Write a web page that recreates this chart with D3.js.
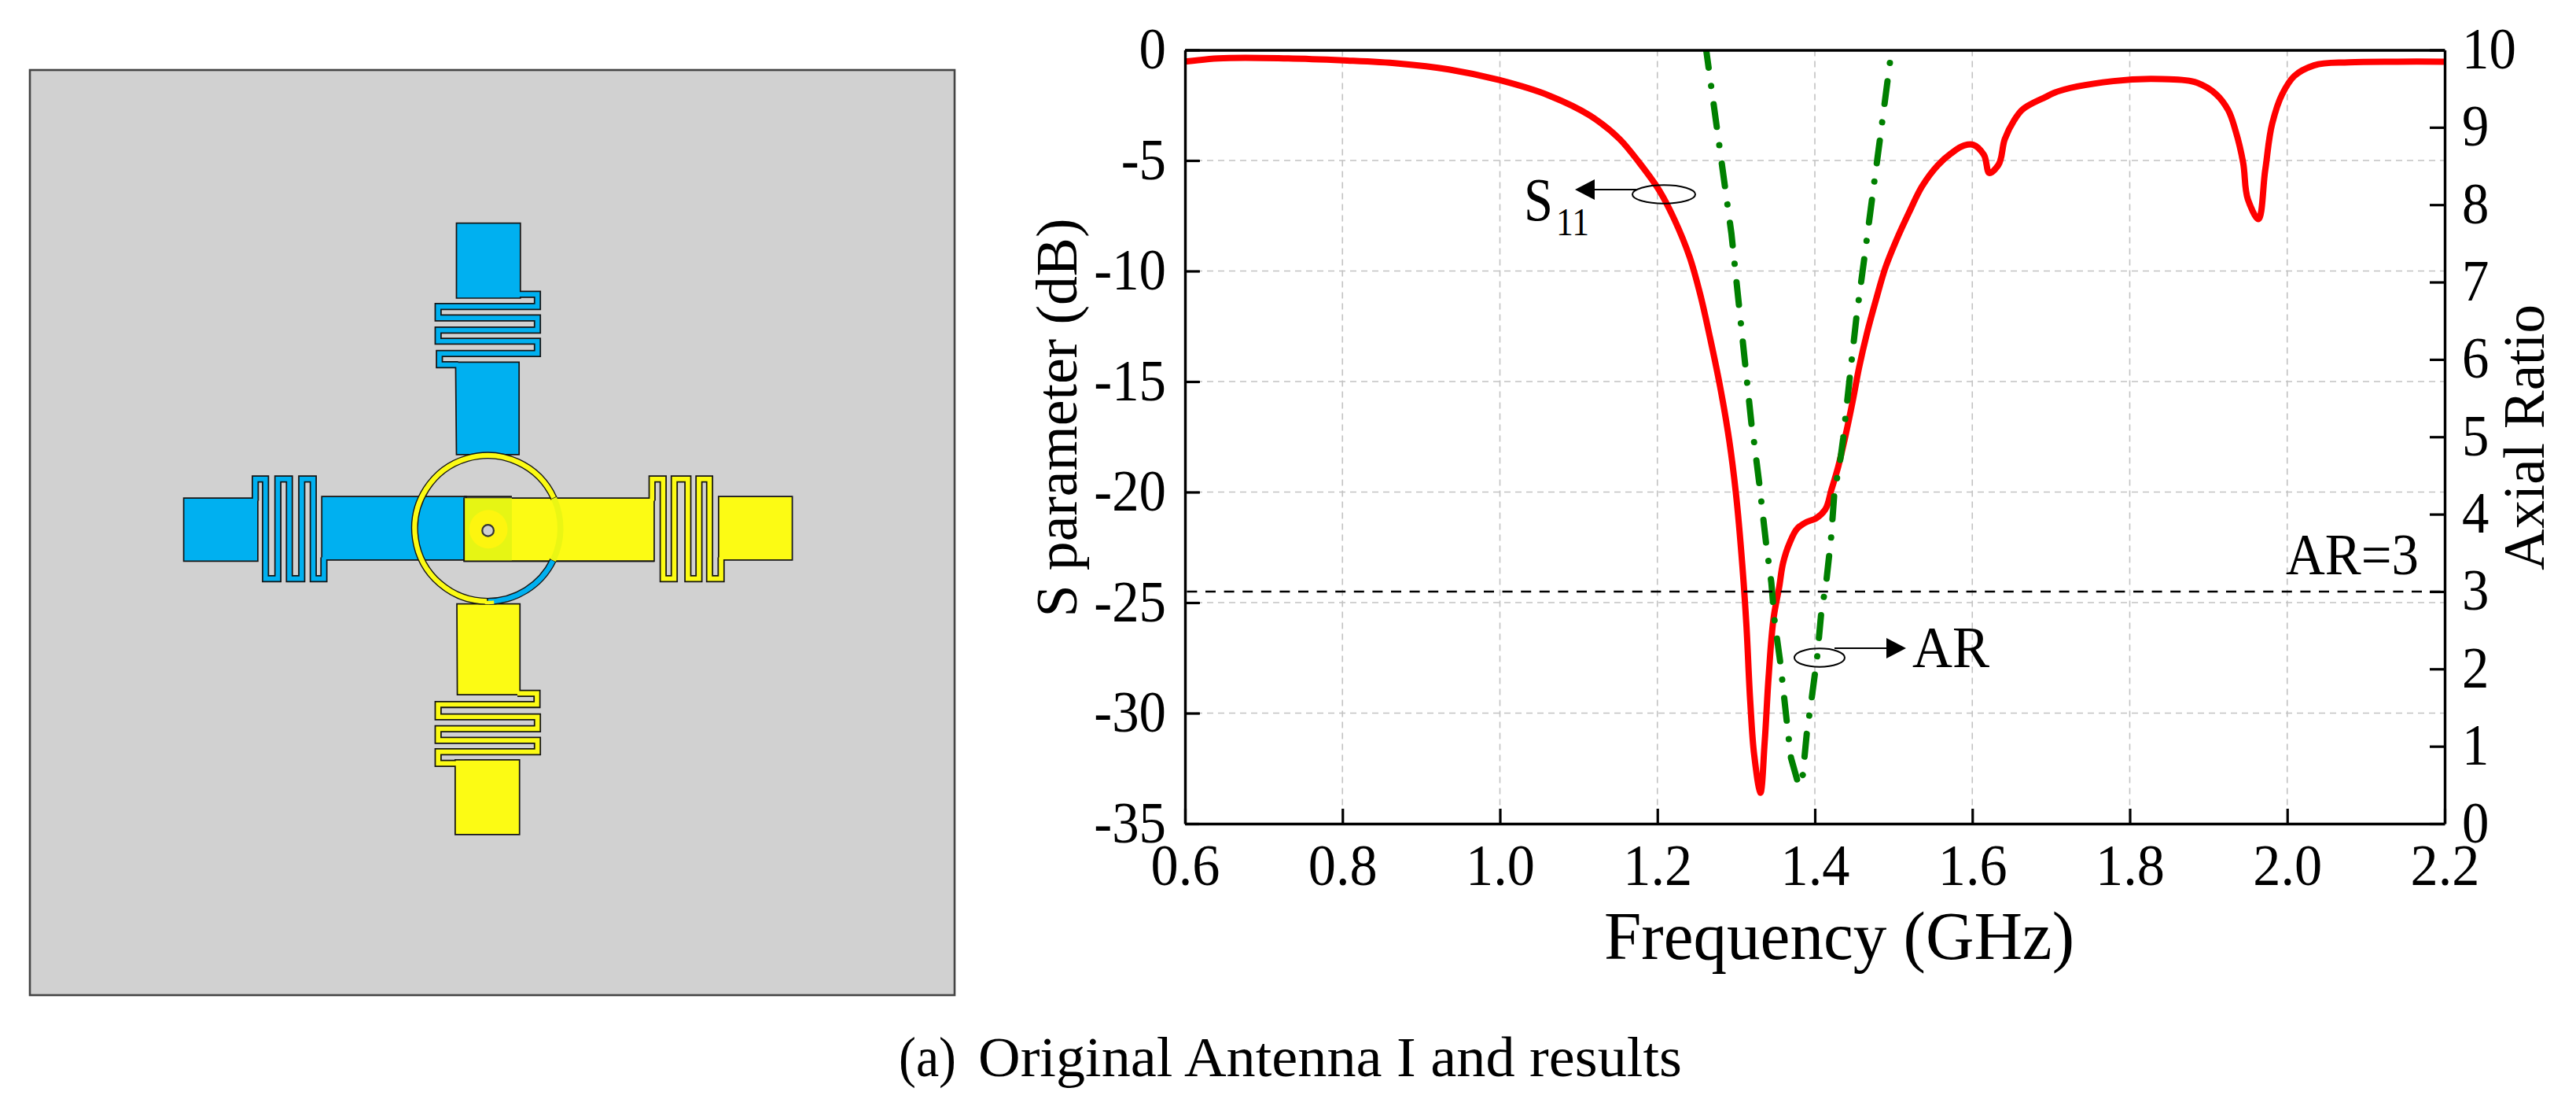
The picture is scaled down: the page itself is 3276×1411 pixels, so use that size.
<!DOCTYPE html>
<html><head><meta charset="utf-8">
<script src="https://cdnjs.cloudflare.com/ajax/libs/d3/7.8.5/d3.min.js"></script>
<style>html,body{margin:0;padding:0;background:#fff}svg{display:block}text{font-family:"Liberation Serif",serif;fill:#000}</style>
</head><body>
<script>
// ---------- chart data ----------
const sFreq = [0.6,0.642,0.731,0.801,0.871,0.935,0.999,1.063,1.114,1.152,1.177,1.203,1.222,1.241,1.254,1.267,1.2795,1.2913,1.2997,1.308,1.313,1.318,1.323,1.3307,1.3363,1.3413,1.348,1.3547,1.3597,1.368,1.378,1.3897,1.401,1.413,1.421,1.4297,1.438,1.448,1.4563,1.4663,1.478,1.4897,1.503,1.5197,1.5363,1.5563,1.573,1.5897,1.6013,1.6147,1.622,1.633,1.6413,1.653,1.663,1.693,1.704,1.779,1.841,1.885,1.9096,1.925,1.9345,1.944,1.95,1.9625,1.972,1.981,1.9936,2.009,2.034,2.078,2.14,2.2];
const sValues = [-0.53,-0.38,-0.38,-0.47,-0.61,-0.88,-1.36,-2.07,-2.96,-4.03,-5.1,-6.39,-7.7,-9.37,-11.0,-13.04,-15.2,-17.67,-20.04,-23.36,-25.97,-29.5,-31.9,-33.6,-31.3,-28.35,-25.6,-24.3,-23.2,-22.3,-21.64,-21.35,-21.2,-20.8,-19.9,-18.85,-17.6,-15.9,-14.35,-12.8,-11.26,-9.84,-8.65,-7.35,-6.16,-5.21,-4.68,-4.32,-4.29,-4.74,-5.57,-5.21,-4.03,-3.19,-2.72,-2.13,-1.94,-1.41,-1.32,-1.48,-2.0,-2.72,-3.67,-5.1,-6.75,-7.64,-5.45,-3.32,-2.0,-1.18,-0.7,-0.56,-0.53,-0.53];
const arFreq = [1.262,1.294,1.3197,1.323,1.3297,1.338,1.3447,1.349,1.3563,1.3647,1.3697,1.378,1.3847,1.3897,1.396,1.403,1.408,1.4147,1.4207,1.4247,1.433,1.436,1.4447,1.453,1.463,1.473,1.483,1.4953,1.497];
const arValues = [10,7.63,5.15,4.92,4.375,3.63,3.12,2.61,2.07,1.29,0.85,0.55,0.63,1.16,1.62,2.16,2.71,3.14,3.7,4.26,4.75,4.98,5.8,6.56,7.32,8.1,8.87,9.83,10];
const xTicks = [0.6,0.8,1.0,1.2,1.4,1.6,1.8,2.0,2.2];
const sTicks = [0,-5,-10,-15,-20,-25,-30,-35];
const arTicks = [0,1,2,3,4,5,6,7,8,9,10];
const xGrid = [0.8,1.0,1.2,1.4,1.6,1.8,2.0];
const sGrid = [-5,-10,-15,-20,-25,-30];
const arThreshold = 3;

// ---------- antenna drawing (schematic outline, in its own coordinate frame) ----------
const topBlocks = [[[702,62],[852,62],[852,238],[702,238]],[[700,388],[849,388],[849,605],[702,605]]];
const topStrip = [[846,229],[892,229],[892,257.5],[659,257.5],[659,284.5],[892,284.5],[892,313],[659,313],[659,339],[892,339],[892,368],[662,368],[662,394],[706,394]];
const leftBlocks = [[[62,707],[236,707],[236,855],[62,855]],[[386,703],[725,703],[725,852],[396,852],[386,852]]];
const leftStrip = [[230,713],[230,662],[254,662],[254,896],[283,896],[283,662],[310,662],[310,896],[339,896],[339,662],[366,662],[366,896],[391,896],[391,846]];
const rightBlocks = [[[720,707],[1166,707],[1166,855],[720,855]],[[1317,703],[1490,703],[1490,852],[1317,852]]];
const rightStrip = [[1161,713],[1161,662],[1187,662],[1187,896],[1213,896],[1213,662],[1245,662],[1245,896],[1271,896],[1271,662],[1296,662],[1296,896],[1323,896],[1323,846]];
const bottomBlocks = [[[703,955],[851,955],[851,1168],[704,1168]],[[699,1321],[850,1321],[850,1496],[699,1496]]];
const bottomStrip = [[845,1165],[891,1165],[891,1191],[659,1191],[659,1220],[892,1220],[892,1248],[659,1248],[659,1275],[892,1275],[892,1302],[659,1302],[659,1329],[706,1329]];
const overlapBox = [[720,707],[832,707],[832,855],[720,855]];

const W = 3276, H = 1411;
const svg = d3.select("body").append("svg").attr("width",W).attr("height",H).attr("viewBox",`0 0 ${W} ${H}`);

// ---------- left panel ----------
const panel = {x0:38,y0:89,x1:1214,y1:1265};
svg.append("rect").attr("x",panel.x0).attr("y",panel.y0).attr("width",panel.x1-panel.x0).attr("height",panel.y1-panel.y0)
  .attr("fill","#d1d1d1").attr("stroke","#444").attr("stroke-width",2.6);

const aX = d3.scaleLinear().domain([0,850*1.845]).range([200,1050]);
const aY = d3.scaleLinear().domain([0,850*1.845]).range([250,1100]);
const aK = aX(1)-aX(0);
const poly = d3.line().x(d=>aX(d[0])).y(d=>aY(d[1]));
const ant = svg.append("g");
const BLUE="#00b0f0", YEL="#fcfb14", EDGE="#151515";
function arm(blocks,strip,col){
  ant.append("path").attr("d",poly(strip)).attr("fill","none").attr("stroke",EDGE).attr("stroke-width",17*aK).attr("stroke-linejoin","miter");
  blocks.forEach(b=>ant.append("path").attr("d",poly(b)+"Z").attr("fill",col).attr("stroke",EDGE).attr("stroke-width",3.2*aK));
  ant.append("path").attr("d",poly(strip)).attr("fill","none").attr("stroke",col).attr("stroke-width",10.5*aK).attr("stroke-linejoin","miter");
}
arm(topBlocks,topStrip,BLUE);
arm(leftBlocks,leftStrip,BLUE);
arm(bottomBlocks,bottomStrip,YEL);
arm(rightBlocks,rightStrip,YEL);
ant.append("path").attr("d",poly(overlapBox)+"Z").attr("fill","#e6f514");
ant.append("path").attr("d",poly([[720,707],[720,855],[1166,855]])).attr("fill","none").attr("stroke",EDGE).attr("stroke-width",3.2*aK);
ant.append("path").attr("d",poly([[720,703],[832,703]])).attr("fill","none").attr("stroke",EDGE).attr("stroke-width",3.2*aK);

const ringC = [775,778];
const deg = Math.PI/180;
const ringArc = (a0,a1,ro,ri)=>d3.arc()({innerRadius:ri*aK,outerRadius:ro*aK,startAngle:a0*deg,endAngle:a1*deg});
const ring = ant.append("g").attr("transform",`translate(${aX(ringC[0])},${aY(ringC[1])})`);
ring.append("path").attr("d",ringArc(180,425.5,178,164)).attr("fill",YEL).attr("stroke",EDGE).attr("stroke-width",2.5*aK);
ring.append("path").attr("d",ringArc(116,180,178,164)).attr("fill",BLUE).attr("stroke",EDGE).attr("stroke-width",2.5*aK);
ring.append("path").attr("d",ringArc(65.5,116,178,164)).attr("fill","#eaf614");
ring.append("path").attr("d",ringArc(175,182,170,178)).attr("fill",YEL);
ant.append("circle").attr("cx",aX(777)).attr("cy",aY(780)).attr("r",45*aK).attr("fill","#fdf50f");
ant.append("circle").attr("cx",aX(776)).attr("cy",aY(783)).attr("r",13.5*aK).attr("fill","#cfcfcf").attr("stroke","#333").attr("stroke-width",2.2);

// ---------- chart ----------
const x = d3.scaleLinear().domain([0.6,2.2]).range([1507,3109]);
const yS = d3.scaleLinear().domain([-35,0]).range([1047,63.5]);
const yAR = d3.scaleLinear().domain([0,10]).range([1047,63.5]);
const plot = svg.append("g");
const GRID="#c2c2c2";
plot.selectAll(".gv").data(xGrid).join("line").attr("class","gv")
  .attr("x1",d=>x(d)).attr("x2",d=>x(d)).attr("y1",yS(0)).attr("y2",yS(-35))
  .attr("stroke",GRID).attr("stroke-width",1.6).attr("stroke-dasharray","8 6");
plot.selectAll(".gh").data(sGrid).join("line").attr("class","gh")
  .attr("y1",d=>yS(d)).attr("y2",d=>yS(d)).attr("x1",x(0.6)).attr("x2",x(2.2))
  .attr("stroke",GRID).attr("stroke-width",1.6).attr("stroke-dasharray","8 6");

svg.append("clipPath").attr("id","pc").append("rect").attr("x",x(0.6)).attr("y",yS(0)).attr("width",x(2.2)-x(0.6)).attr("height",yS(-35)-yS(0));
plot.append("path").datum(d3.zip(sFreq,sValues)).attr("clip-path","url(#pc)")
  .attr("d",d3.line().x(d=>x(d[0])).y(d=>yS(d[1])).curve(d3.curveCatmullRom.alpha(0.8)))
  .attr("fill","none").attr("stroke","#ff0000").attr("stroke-width",8);
// axial ratio: the two branches meet at the minimum; each keeps its own dash phase
const arPts = d3.zip(arFreq,arValues);
const arMin = d3.leastIndex(arValues);
const arLine = d3.line().x(d=>x(d[0])).y(d=>yAR(d[1])).curve(d3.curveMonotoneY);
const arLineL = d3.line().x(d=>x(d[0])).y(d=>yAR(d[1]));
[[arPts.slice(0,arMin+1),6.3],[arPts.slice(arMin).reverse(),35.9]].forEach(([pts,off])=>{
  plot.append("path").datum(pts).attr("clip-path","url(#pc)")
    .attr("d",arLineL).attr("fill","none").attr("stroke","#008000").attr("stroke-width",8).attr("stroke-linecap","round")
    .attr("stroke-dasharray","29 23.5 0.01 23.5").attr("stroke-dashoffset",off);
});
plot.append("line").attr("x1",x(0.6)).attr("x2",x(2.2)).attr("y1",yAR(arThreshold)).attr("y2",yAR(arThreshold))
  .attr("stroke","#000").attr("stroke-width",2.4).attr("stroke-dasharray","13 10.6").attr("stroke-dashoffset",-26);

// axes
const TICK=19;
function styleAxis(g){ g.selectAll(".tick line").attr("stroke","#000").attr("stroke-width",3.2); g.select(".domain").attr("stroke","#000").attr("stroke-width",3.4); }
function squeeze(sel,k){ sel.each(function(){ const n=this; n.setAttribute("textLength",n.getComputedTextLength()*k); n.setAttribute("lengthAdjust","spacingAndGlyphs"); }); }
const fmt1=d3.format(".1f");
const gB = svg.append("g").attr("transform",`translate(0,${yS(-35)})`).call(d3.axisBottom(x).tickValues(xTicks).tickFormat(fmt1).tickSizeInner(-TICK).tickSizeOuter(0));
const gL = svg.append("g").attr("transform",`translate(${x(0.6)},0)`).call(d3.axisLeft(yS).tickValues(sTicks).tickFormat(d=>String(d)).tickSizeInner(-TICK).tickSizeOuter(0));
const gR = svg.append("g").attr("transform",`translate(${x(2.2)},0)`).call(d3.axisRight(yAR).tickValues(arTicks).tickFormat(d=>String(d)).tickSizeInner(-TICK).tickSizeOuter(0));
const gT = svg.append("g").attr("transform",`translate(0,${yS(0)})`).call(d3.axisTop(x).tickValues([]).tickSizeOuter(0));
[gB,gL,gR,gT].forEach(styleAxis);
[gB,gL,gR].forEach(g=>g.attr("font-family",null).attr("font-size",null));
gB.selectAll("text").attr("y",78).attr("dy",0).style("font-size","74px");
gL.selectAll("text").attr("x",-24).attr("dy",0).attr("y",23).style("font-size","74px");
gR.selectAll("text").attr("x",22).attr("dy",0).attr("y",23).style("font-size","74px");
squeeze(gB.selectAll("text"),0.95); squeeze(gL.selectAll("text"),0.93); squeeze(gR.selectAll("text"),0.93);

function label(s,px,py,fs,len,rot,anchor){
  const t=svg.append("text").text(s).style("font-size",fs+"px")
    .attr("text-anchor",anchor||"start");
  if(rot) t.attr("transform",`translate(${px},${py}) rotate(${rot})`); else t.attr("x",px).attr("y",py);
  if(len) t.attr("textLength",len).attr("lengthAdjust","spacingAndGlyphs");
  return t;
}
label("Frequency (GHz)",2040,1219,86,598);
label("S parameter (dB)",1369,531,74,507,-90,"middle");
label("Axial Ratio",3235,556,74,338,-90,"middle");
label("AR=3",2907,730,74,169);
label("AR",2432,848,74,98);
label("S",1938,280,78,37);
label("11",1979,299,50,42);
label("(a)",1143,1368,71,73);
label("Original Antenna I and results",1244,1368,71,895);

// annotations
const ann = svg.append("g");
ann.append("ellipse").attr("cx",2116).attr("cy",247).attr("rx",40).attr("ry",11.7).attr("fill","none").attr("stroke","#000").attr("stroke-width",2);
ann.append("line").attr("x1",2026).attr("x2",2081).attr("y1",241).attr("y2",241).attr("stroke","#000").attr("stroke-width",2);
ann.append("path").attr("d",d3.line()([[2003,241],[2028,228],[2028,254]])+"Z").attr("fill","#000");
ann.append("ellipse").attr("cx",2314).attr("cy",836).attr("rx",32).attr("ry",11.7).attr("fill","none").attr("stroke","#000").attr("stroke-width",2);
ann.append("line").attr("x1",2333).attr("x2",2401).attr("y1",824).attr("y2",824).attr("stroke","#000").attr("stroke-width",2);
ann.append("path").attr("d",d3.line()([[2424,824],[2399,811],[2399,837]])+"Z").attr("fill","#000");
</script>
</body></html>
